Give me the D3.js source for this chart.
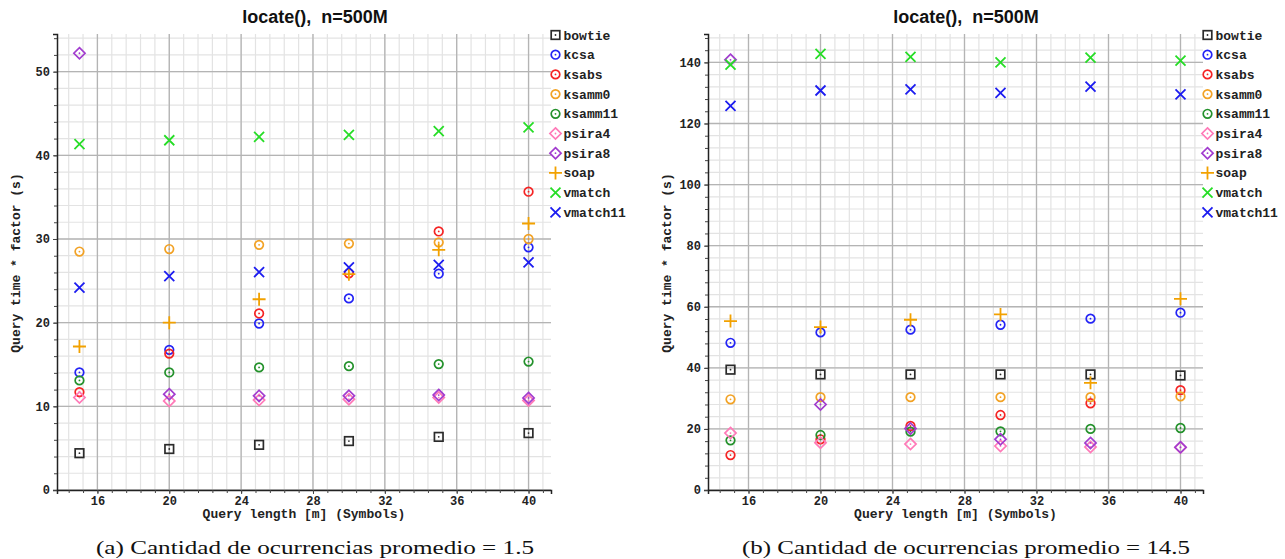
<!DOCTYPE html>
<html>
<head>
<meta charset="utf-8">
<script src="https://cdn.jsdelivr.net/npm/d3@7"></script>
<style>
  body { margin: 0; background: #fff; }
  svg { display: block; }
  .mono { font-family: "Liberation Mono", "DejaVu Sans Mono", monospace; font-weight: bold; font-size: 13px; fill: #222; }
  .tickl { font-family: "Liberation Mono", "DejaVu Sans Mono", monospace; font-weight: bold; font-size: 12px; fill: #222; }
</style>
</head>
<body>
<svg id="chart" width="1285" height="559"></svg>
<script>
// query lengths on the x axis
const lengths = [15, 20, 25, 30, 35, 40];
const seriesNames = ['bowtie', 'kcsa', 'ksabs', 'ksamm0', 'ksamm11', 'psira4', 'psira8', 'soap', 'vmatch', 'vmatch11'];
const seriesColors = ['#2b2b2b', '#2323f5', '#f52323', '#f2a225', '#23912b', '#ff7ab8', '#a23ccf', '#f2a100', '#26dd26', '#1c1cf0'];
const seriesShapes = ['square', 'circle', 'circle', 'circle', 'circle', 'diamond', 'diamond', 'plus', 'cross', 'cross'];

// (a) average occurrences = 1.5, one row per series (same order as seriesNames)
const valuesA = [
  [4.4, 4.9, 5.4, 5.85, 6.35, 6.8],
  [14.05, 16.75, 19.9, 22.9, 25.85, 29.0],
  [11.7, 16.3, 21.1, 25.9, 30.9, 35.65],
  [28.5, 28.8, 29.3, 29.45, 29.6, 30.0],
  [13.1, 14.05, 14.65, 14.8, 15.05, 15.35],
  [11.05, 10.65, 10.75, 10.85, 11.05, 10.7],
  [52.2, 11.45, 11.25, 11.25, 11.35, 11.0],
  [17.15, 20.0, 22.8, 25.8, 28.7, 31.85],
  [41.35, 41.8, 42.2, 42.45, 42.9, 43.35],
  [24.2, 25.55, 26.05, 26.6, 26.9, 27.2]
];

// (b) average occurrences = 14.5
const valuesB = [
  [39.4, 37.85, 37.85, 37.85, 37.85, 37.5],
  [48.2, 51.6, 52.5, 54.1, 56.1, 58.05],
  [11.45, 16.6, 20.95, 24.55, 28.4, 32.7],
  [29.7, 30.4, 30.4, 30.4, 30.4, 30.65],
  [16.25, 18.0, 19.1, 19.2, 20.0, 20.3],
  [18.65, 15.5, 15.05, 14.4, 14.1, 13.9],
  [140.85, 28.0, 20.1, 16.6, 15.4, 14.0],
  [55.3, 53.35, 55.75, 57.5, 35.1, 62.6],
  [139.3, 142.8, 141.8, 140.0, 141.6, 140.55],
  [125.8, 130.8, 131.2, 130.05, 132.1, 129.5]
];

const xTicks = [16, 20, 24, 28, 32, 36, 40];
const yTicksA = [0, 10, 20, 30, 40, 50];
const yTicksB = [0, 20, 40, 60, 80, 100, 120, 140];

const svg = d3.select('#chart');

function drawMarker(g, shape, color, x, y) {
  const m = g.append('g').attr('transform', 'translate(' + x + ',' + y + ')')
    .attr('stroke', color).attr('fill', 'none').attr('stroke-width', 1.7);
  if (shape === 'square') {
    m.append('rect').attr('x', -4.3).attr('y', -4.3).attr('width', 8.6).attr('height', 8.6);
  } else if (shape === 'circle') {
    m.append('circle').attr('r', 4.3);
  } else if (shape === 'diamond') {
    m.append('path').attr('d', 'M0,-5.6L5.6,0L0,5.6L-5.6,0Z');
  } else if (shape === 'plus') {
    m.append('path').attr('d', 'M-6.5,0H6.5M0,-6.5V6.5').attr('stroke-width', 1.8);
  } else if (shape === 'cross') {
    m.append('path').attr('d', 'M-5,-5L5,5M-5,5L5,-5').attr('stroke-width', 1.8);
  }
  if (shape === 'square' || shape === 'circle' || shape === 'diamond') {
    m.append('circle').attr('r', 0.9).attr('fill', color).attr('stroke', 'none');
  }
}

function drawPanel(opts) {
  const g = svg.append('g');
  const x = d3.scaleLinear().domain([13.75, 41.25]).range([opts.left, opts.right]);
  const y = d3.scaleLinear().domain([0, opts.yMax]).range([490, 34]);

  const xMinor = d3.range(12, 41.3, 0.8).filter(v => v > 13.75 && v < 41.25);
  const yMinor = d3.range(0, opts.yMax, opts.yMinorStep);

  // minor grid
  g.append('g').selectAll('line').data(xMinor).join('line')
    .attr('x1', d => x(d)).attr('x2', d => x(d)).attr('y1', y(0)).attr('y2', y(opts.yMax))
    .attr('stroke', '#e3e3e3').attr('stroke-width', 1.2);
  g.append('g').selectAll('line').data(yMinor).join('line')
    .attr('x1', x(13.75)).attr('x2', x(41.25)).attr('y1', d => y(d)).attr('y2', d => y(d))
    .attr('stroke', '#e3e3e3').attr('stroke-width', 1.2);
  // major grid
  g.append('g').selectAll('line').data(xTicks).join('line')
    .attr('x1', d => x(d)).attr('x2', d => x(d)).attr('y1', y(0)).attr('y2', y(opts.yMax))
    .attr('stroke', '#b4b4b4').attr('stroke-width', 1.3);
  g.append('g').selectAll('line').data(opts.yTicks).join('line')
    .attr('x1', x(13.75)).attr('x2', x(41.25)).attr('y1', d => y(d)).attr('y2', d => y(d))
    .attr('stroke', '#b4b4b4').attr('stroke-width', 1.3);

  // axes
  const xAxis = g.append('g').attr('transform', 'translate(0,490)')
    .call(d3.axisBottom(x).tickValues(xTicks).tickSize(4).tickFormat(d3.format('d')));
  g.append('g').attr('transform', 'translate(0,490)')
    .call(d3.axisBottom(x).tickValues(xMinor).tickSize(3).tickFormat(''))
    .call(a => a.select('.domain').remove());
  const yAxis = g.append('g').attr('transform', 'translate(' + opts.left + ',0)')
    .call(d3.axisLeft(y).tickValues(opts.yTicks).tickSize(4).tickPadding(3).tickFormat(d3.format('d')));
  g.append('g').attr('transform', 'translate(' + opts.left + ',0)')
    .call(d3.axisLeft(y).tickValues(yMinor).tickSize(3).tickFormat(''))
    .call(a => a.select('.domain').remove());

  g.selectAll('.domain').attr('stroke', '#222').attr('stroke-width', 1.5);
  g.selectAll('.tick line').attr('stroke', '#444');
  [xAxis, yAxis].forEach(a => a.selectAll('text').attr('class', 'tickl').attr('font-size', null).attr('font-family', null));
  xAxis.selectAll('text').attr('y', 15).attr('dy', 0);

  // points
  seriesNames.forEach((name, i) => {
    opts.values[i].forEach((v, j) => {
      drawMarker(g, seriesShapes[i], seriesColors[i], x(lengths[j]), y(v));
    });
  });

  // legend
  seriesNames.forEach((name, i) => {
    const ly = 35 + i * 19.7;
    drawMarker(g, seriesShapes[i], seriesColors[i], opts.right + 4.5, ly);
    g.append('text').attr('class', 'mono').attr('x', opts.right + 12.5).attr('y', ly)
      .attr('dy', '0.35em').text(name);
  });

  // title and labels
  g.append('text').attr('x', opts.center).attr('y', 23).attr('text-anchor', 'middle')
    .style('white-space', 'pre')
    .attr('font-family', '"Liberation Sans", Arial, sans-serif').attr('font-weight', 'bold')
    .attr('font-size', 18).attr('fill', '#111').text('locate(),  n=500M');

  g.append('text').attr('class', 'mono')
    .attr('transform', 'translate(' + (opts.left - 42) + ',263) rotate(-90)')
    .attr('text-anchor', 'middle').attr('dy', '0.35em').text('Query time * factor (s)');

  g.append('text').attr('class', 'mono').attr('x', (opts.left + opts.right) / 2)
    .attr('y', 518).attr('text-anchor', 'middle').style('white-space', 'pre')
    .text('Query length [m] (Symbols)');

  g.append('text').attr('x', opts.center).attr('y', 554).attr('text-anchor', 'middle')
    .attr('font-family', '"Liberation Serif", "DejaVu Serif", serif').attr('font-size', 19)
    .attr('fill', '#111').attr('textLength', opts.captionWidth).attr('lengthAdjust', 'spacingAndGlyphs')
    .text(opts.caption);
}

drawPanel({ left: 57, right: 551, center: 315, yMax: 54.5, yMinorStep: 2, yTicks: yTicksA,
  values: valuesA, caption: '(a) Cantidad de ocurrencias promedio = 1.5', captionWidth: 438 });
drawPanel({ left: 708, right: 1203, center: 966, yMax: 149.3, yMinorStep: 4, yTicks: yTicksB,
  values: valuesB, caption: '(b) Cantidad de ocurrencias promedio = 14.5', captionWidth: 448 });
</script>
</body>
</html>
